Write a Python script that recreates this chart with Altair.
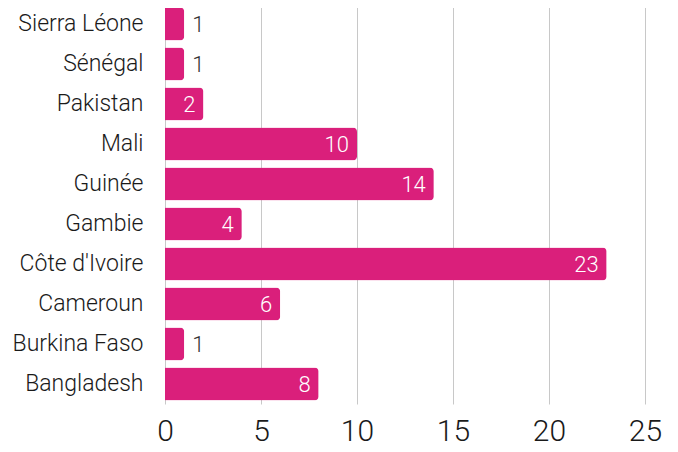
import altair as alt
import pandas as pd

countries = ["Sierra Léone", "Sénégal", "Pakistan", "Mali", "Guinée", "Gambie",
             "Côte d'Ivoire", "Cameroun", "Burkina Faso", "Bangladesh"]
values = [1, 1, 2, 10, 14, 4, 23, 6, 1, 8]
x_ticks = [0, 5, 10, 15, 20, 25]

df = pd.DataFrame({"country": countries, "value": values})

FONT = "Roboto"
COLOR = "#DA1F7B"

y = alt.Y("country:N", sort=countries, title=None,
          scale=alt.Scale(paddingInner=0.175, paddingOuter=0.0875),
          axis=alt.Axis(labelFontSize=23, labelFont=FONT, labelFontWeight=300,
                        labelColor="#1a1a1a", labelPadding=22, ticks=False,
                        domain=False, labelLimit=200))
x = alt.X("value:Q", title=None,
          scale=alt.Scale(domain=[0, 25], nice=False),
          axis=alt.Axis(values=x_ticks, labelFontSize=30, labelFont=FONT,
                        labelFontWeight=300, labelFlush=False,
                        labelColor="#1a1a1a", labelPadding=12, ticks=False,
                        domain=False, grid=True, gridColor="#c8c8c8", gridWidth=1))

base = alt.Chart(df)

bars = base.mark_bar(color=COLOR, cornerRadiusTopRight=4,
                     cornerRadiusBottomRight=4).encode(x=x, y=y)

inside = base.transform_filter(alt.datum.value >= 2).mark_text(
    align="right", baseline="middle", dx=-8, dy=1, fontSize=22, font=FONT,
    fontWeight=300, color="white").encode(
        x="value:Q", y=alt.Y("country:N", sort=countries), text="value:Q")

outside = base.transform_filter(alt.datum.value < 2).mark_text(
    align="left", baseline="middle", dx=8, dy=1, fontSize=22, font=FONT,
    fontWeight=300, color="#333333").encode(
        x="value:Q", y=alt.Y("country:N", sort=countries), text="value:Q")

chart = (bars + inside + outside).properties(
    width=480, height=400,
    autosize=alt.AutoSizeParams(type="none"),
    padding={"left": 157, "top": -4, "right": 20, "bottom": 48},
).configure_view(stroke=None)

chart.save("out.html", embed_options={"renderer": "svg", "actions": False})
